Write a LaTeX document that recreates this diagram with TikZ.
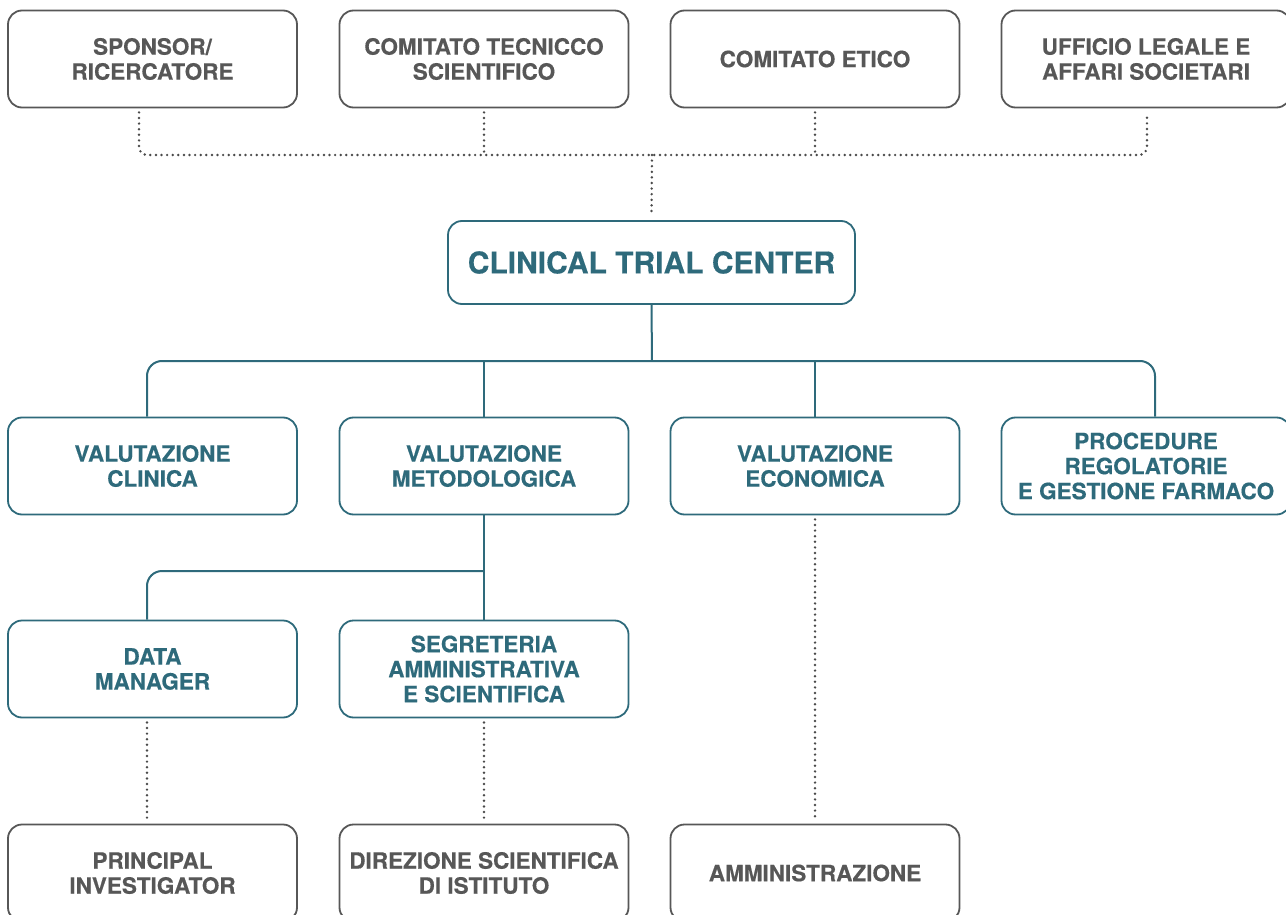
\documentclass[tikz,border=0pt]{standalone}
\usepackage{fontspec}
\setmainfont{TeX Gyre Heros}[BoldFeatures={FakeBold=0.4}]
\usetikzlibrary{calc}

\definecolor{boxgray}{HTML}{575757}
\definecolor{dotgray}{HTML}{4A4A4A}
\definecolor{teal}{HTML}{2E6A7B}

\tikzset{
  unit/.style={draw, rounded corners=14pt, line width=1.8pt, fill=white,
    minimum width=289pt, minimum height=97pt, inner sep=0pt,
    align=center, font=\bfseries\fontsize{22.5}{25}\selectfont},
  grayunit/.style={unit, draw=boxgray, text=boxgray},
  tealunit/.style={unit, draw=teal, text=teal},
  hubunit/.style={tealunit, minimum width=407pt, minimum height=83pt,
    font=\bfseries\fontsize{30}{34}\selectfont},
  dotline/.style={draw=dotgray, line width=2.7pt, line cap=round,
    dash pattern=on 0pt off 5.6pt},
  tealline/.style={draw=teal, line width=2pt}
}

\begin{document}
\begin{tikzpicture}[x=1pt, y=-1pt]
\clip (0,0) rectangle (1286,915);

% external bodies
\node[grayunit] (sp)  at (152.5,59) {SPONSOR/\\RICERCATORE};
\node[grayunit] (cts) at (484,59)   {COMITATO TECNICCO\\SCIENTIFICO};
\node[grayunit] (ce)  at (815,59)   {COMITATO ETICO};
\node[grayunit] (ul)  at (1146,59)  {UFFICIO LEGALE E\\AFFARI SOCIETARI};

% centre
\node[hubunit] (ctc) at (651.5,262.5) {CLINICAL TRIAL CENTER};

% evaluation units
\node[tealunit] (vc) at (152.5,466) {VALUTAZIONE\\CLINICA};
\node[tealunit] (vm) at (484,466)   {VALUTAZIONE\\METODOLOGICA};
\node[tealunit] (ve) at (815,466)   {VALUTAZIONE\\ECONOMICA};
\node[tealunit] (pr) at (1146,466)  {PROCEDURE\\REGOLATORIE\\E GESTIONE FARMACO};

% support staff
\node[tealunit] (dm) at (152.5,669) {DATA\\MANAGER};
\node[tealunit] (sg) at (484,669)   {SEGRETERIA\\AMMINISTRATIVA\\E SCIENTIFICA};

% bottom row
\node[grayunit] (pi) at (152.5,873) {PRINCIPAL\\INVESTIGATOR};
\node[grayunit] (ds) at (484,873)   {DIREZIONE SCIENTIFICA\\DI ISTITUTO};
\node[grayunit] (am) at (815,873)   {AMMINISTRAZIONE};

% dotted links from the external bodies
\coordinate (hub) at (652,155);
\path[dotline, rounded corners=8pt]
  ([xshift=-13.5pt,yshift=-4pt]sp.south) |- (hub)
  -| ([xshift=1pt,yshift=-4pt]ul.south);
\path[dotline] ([yshift=-4pt]cts.south) -- (cts.south |- hub);
\path[dotline] ([yshift=-4pt]ce.south) -- (ce.south |- hub);
\path[dotline] (hub) -- ([yshift=4pt]ctc.north);

% solid tree below the centre
\coordinate (bus) at (652,361);
\path[tealline] (ctc.south) -- (bus);
\path[tealline, rounded corners=15pt]
  ([xshift=-5.5pt]vc.north) |- (bus) -| ([xshift=9pt]pr.north);
\path[tealline] (vm.north |- bus) -- (vm.north);
\path[tealline] (ve.north |- bus) -- (ve.north);

\coordinate (split) at (484,571);
\path[tealline] (vm.south) -- (sg.north);
\path[tealline, rounded corners=15pt] (split) -| ([xshift=-5.5pt]dm.north);

% dotted links to the bottom row
\path[dotline] ([xshift=-5.5pt,yshift=-4pt]dm.south) -- ([xshift=-5.5pt,yshift=3pt]pi.north);
\path[dotline] ([yshift=-4pt]sg.south) -- ([yshift=3pt]ds.north);
\path[dotline] ([yshift=-4pt]ve.south) -- ([yshift=3pt]am.north);
\end{tikzpicture}
\end{document}
